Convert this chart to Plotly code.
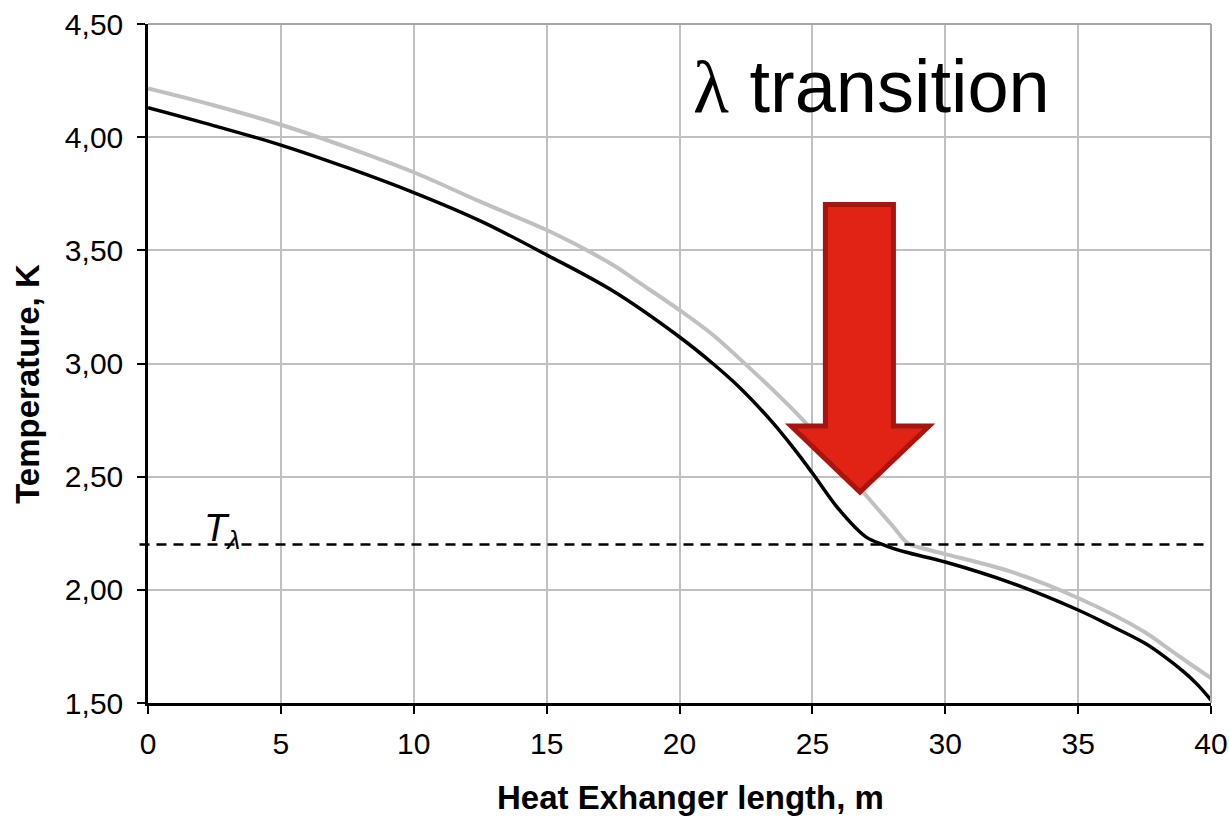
import plotly.graph_objects as go

# Heat exchanger length (m) and temperatures (K) along it
x_cold = [0, 2.5, 5, 7.5, 10, 12.5, 15, 17.5, 20, 21.25, 22.3, 23.5, 24.3, 25,
          26, 27, 27.7, 28.5, 30, 32.5, 35, 36.25, 37.5, 38.25, 39, 39.5, 40]
t_cold = [4.13, 4.05, 3.965, 3.865, 3.755, 3.63, 3.48, 3.32, 3.117, 3.00, 2.89,
          2.74, 2.625, 2.516, 2.355, 2.235, 2.198, 2.167, 2.123, 2.03, 1.911,
          1.84, 1.765, 1.705, 1.635, 1.58, 1.513]

x_warm = [0, 2.5, 5, 7.5, 10, 12.5, 15, 16, 17.5, 18.5, 20, 21.25, 22.5, 23.5,
          24.65, 26, 27, 28, 28.6, 29, 30, 32.5, 35, 37.5, 38.25, 39, 40]
t_warm = [4.215, 4.14, 4.055, 3.955, 3.845, 3.715, 3.59, 3.532, 3.435, 3.356,
          3.236, 3.127, 2.995, 2.885, 2.75, 2.56, 2.42, 2.285, 2.205, 2.188,
          2.158, 2.079, 1.964, 1.814, 1.752, 1.69, 1.61]

t_lambda = 2.2  # lambda-point temperature level

x_ticks = [0, 5, 10, 15, 20, 25, 30, 35, 40]
y_ticks = [1.5, 2.0, 2.5, 3.0, 3.5, 4.0, 4.5]

FONT = "Liberation Sans, Arial, sans-serif"

fig = go.Figure()
fig.add_trace(go.Scatter(x=x_warm, y=t_warm, mode="lines",
                         line=dict(color="#C0C0C0", width=4, shape="spline", smoothing=1.0),
                         showlegend=False, hoverinfo="skip"))
fig.add_trace(go.Scatter(x=x_cold, y=t_cold, mode="lines",
                         line=dict(color="#000000", width=3.5, shape="spline", smoothing=1.0),
                         showlegend=False, hoverinfo="skip"))

shapes = []
# T_lambda dashed level
shapes.append(dict(type="line", xref="paper", yref="y", x0=-0.008, x1=1, y0=t_lambda, y1=t_lambda,
                   line=dict(color="black", width=2.5, dash="10px,7px")))
# top and right frame
shapes.append(dict(type="line", xref="paper", yref="paper", x0=0, x1=1, y0=1, y1=1,
                   line=dict(color="#A6A6A6", width=2)))
shapes.append(dict(type="line", xref="paper", yref="paper", x0=1, x1=1, y0=0, y1=1,
                   line=dict(color="#A6A6A6", width=2)))

# Red block arrow pointing at the transition
shaft_l, shaft_r, shaft_top = 25.49, 28.05, 3.703
head_l, head_r, head_top = 24.20, 29.39, 2.724
tip_x, tip_y = 26.79, 2.432
arrow_path = (f"M {shaft_l},{shaft_top} L {shaft_r},{shaft_top} L {shaft_r},{head_top} "
              f"L {head_r},{head_top} L {tip_x},{tip_y} L {head_l},{head_top} "
              f"L {shaft_l},{head_top} Z")
shapes.append(dict(type="path", xref="x", yref="y", path=arrow_path,
                   fillcolor="#E12316", line=dict(color="#A8140E", width=5)))

annotations = [
    dict(text='<span style="font-family:Liberation Serif">λ</span> transition',
         xref="x", yref="y", x=20.45, y=4.03, xanchor="left", yanchor="bottom",
         showarrow=False, font=dict(family=FONT, size=74, color="black")),
    dict(text="<i>T</i><sub><i>λ</i></sub>", xref="x", yref="y", x=2.05, y=t_lambda,
         xanchor="left", yanchor="bottom", yshift=-12, showarrow=False,
         font=dict(family=FONT, size=38, color="black")),
    dict(text="<b>Heat Exhanger length, m</b>", xref="paper", yref="paper",
         x=0.51, y=0, yshift=-74, xanchor="center", yanchor="top", showarrow=False,
         font=dict(family=FONT, size=33, color="black")),
    dict(text="<b>Temperature, K</b>", xref="paper", yref="paper", textangle=-90,
         x=0, xshift=-120, y=0.47, xanchor="center", yanchor="middle", showarrow=False,
         font=dict(family=FONT, size=33, color="black")),
]

axis_common = dict(showgrid=True, gridcolor="#C0C0C0", gridwidth=2, zeroline=False,
                   showline=True, linecolor="black", linewidth=2.5, automargin=False,
                   ticks="outside", ticklen=8, tickwidth=2, tickcolor="black",
                   tickfont=dict(family=FONT, size=30, color="black"))

fig.update_layout(
    width=1229, height=820,
    margin=dict(l=148, r=18, t=24, b=117),
    paper_bgcolor="white", plot_bgcolor="white",
    separators=", ",
    shapes=shapes, annotations=annotations,
    xaxis=dict(range=[0, 40], tickvals=x_ticks, ticklabelstandoff=4, **axis_common),
    yaxis=dict(range=[1.5, 4.5], tickvals=y_ticks, tickformat=".2f",
               ticklabelstandoff=8, **axis_common),
)

fig.write_html("out.html")
